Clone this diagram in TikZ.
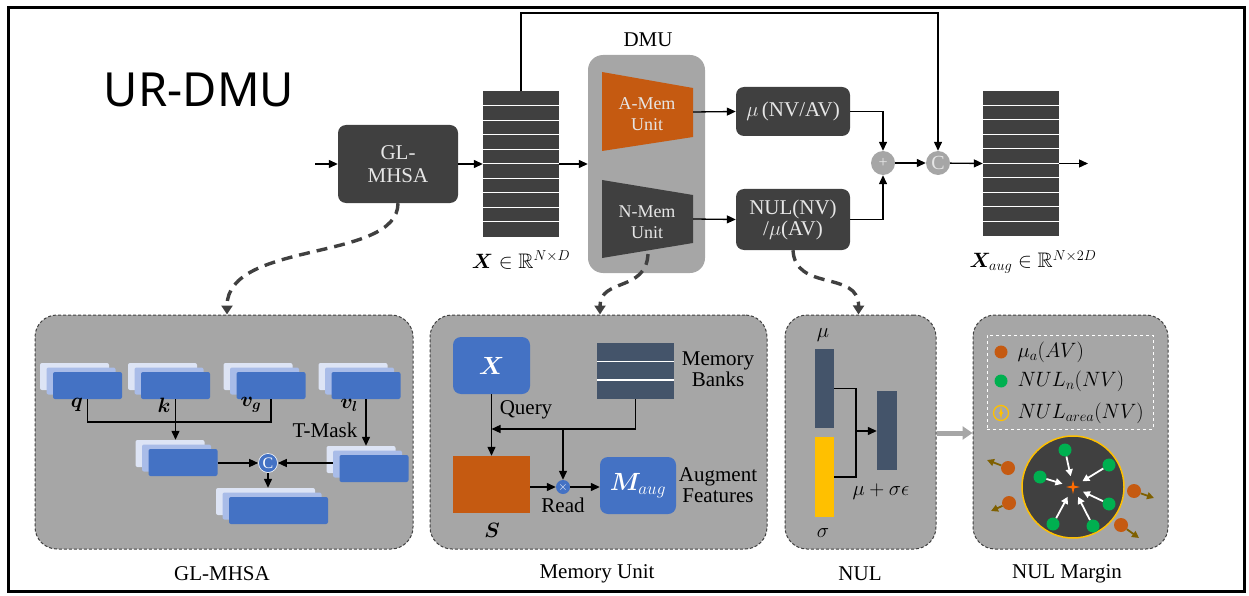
\documentclass[tikz,border=0pt]{standalone}
\usepackage{amsmath,amssymb,bm}
\usepackage{fontspec}
\setmainfont{Liberation Serif}
\newfontfamily\titlefont{Noto Sans}
\usetikzlibrary{arrows.meta,calc,shapes.geometric}
\definecolor{dk}{HTML}{404040}
\definecolor{pg}{HTML}{A6A6A6}
\definecolor{bl}{HTML}{4472C4}
\definecolor{blm}{HTML}{A9BCE8}
\definecolor{blb}{HTML}{DDE4F5}
\definecolor{org}{HTML}{C55A11}
\definecolor{sl}{HTML}{44546A}
\definecolor{yl}{HTML}{FFC000}
\definecolor{gr}{HTML}{00B050}
\definecolor{brn}{HTML}{7F6000}
\definecolor{lt}{HTML}{E6E6E6}
\definecolor{od}{HTML}{C55A11}
\newcommand\stk[5]{%
  \node[lay, fill=blb, minimum width=#4, minimum height=#5] (#1b) at ({#2-13},{#3-9}) {};
  \node[lay, fill=blm, minimum width=#4, minimum height=#5] (#1m) at ({#2-6.5},{#3-4.5}) {};
  \node[lay, fill=bl, minimum width=#4, minimum height=#5] (#1) at (#2,#3) {};}
\tikzset{
  arr/.style={line width=1.3pt, -{Triangle[length=9pt,width=8pt]}},
  ln/.style={line width=1.3pt},
  dkbox/.style={fill=dk, rounded corners=8pt, text=lt, align=center, inner sep=0pt},
  lay/.style={rounded corners=2pt, inner sep=0pt, draw=none},
  panel/.style={fill=pg, draw=dk, densely dashed, line width=1pt, rounded corners=22pt, inner sep=0pt},
  conn/.style={dk, line width=3.4pt, dash pattern=on 11pt off 7pt, -{Triangle[length=9pt,width=11pt]}},
  dot/.style={circle, inner sep=0pt, minimum size=13pt},
  bbox/.style={fill=bl, rounded corners=8pt, inner sep=0pt, text=white},
}
\begin{document}
\begin{tikzpicture}[x=1pt,y=-1pt, font=\fontsize{21}{23}\selectfont]
\useasboundingbox (0,0) rectangle (1249,596);
\draw[line width=3pt] (8,8) rectangle (1244,591);
\node[font=\titlefont\fontsize{47}{50}\selectfont] (title) at (199,90) {UR-DMU};

% ---------- top row ----------
\coordinate (in) at (315,164);
\node[dkbox, minimum width=120pt, minimum height=78pt] (gl) at (398,164) {GL-\\MHSA};
\draw[arr] (in) -- (gl.west);

\node[fill=dk, minimum width=76pt, minimum height=145pt, inner sep=0pt] (X) at (521,164) {};
\foreach \i in {1,...,9} \draw[white, line width=1.3pt] ($(X.north west)+(0,\i*14.5)$) -- ++(76,0);
\node (xlab) at (521,260) {$\bm{X}\in\mathbb{R}^{N\times D}$};
\draw[arr] (gl.east) -- (X.west);

\node[fill=pg, rounded corners=15pt, minimum width=117pt, minimum height=218pt, inner sep=0pt] (dmu) at (646.5,164) {};
\node (dmulab) at (648,40) {DMU};
\draw[arr] (X.east) -- (dmu.west);

\fill[org] (602,72) -- (693,88) -- (693,137) -- (602,151) -- cycle;
\node[text=lt, align=center, font=\fontsize{18}{21}\selectfont] (amem) at (647,114) {A-Mem\\Unit};
\coordinate (amemR) at (693,112);
\fill[dk] (602,180) -- (693,195) -- (693,243) -- (602,258) -- cycle;
\node[text=lt, align=center, font=\fontsize{18}{21}\selectfont] (nmem) at (647,222) {N-Mem\\Unit};
\coordinate (nmemR) at (693,219);
\coordinate (nmemS) at (648,254);

\node[dkbox, minimum width=114pt, minimum height=49pt] (mu) at (793,111.5) {$\mu$\,(NV/AV)};
\node[dkbox, minimum width=114pt, minimum height=61pt] (nul) at (793,219.5) {NUL(NV)\\[-2pt]/$\mu$(AV)};
\draw[arr] (amemR) -- (mu.west);
\draw[arr] (nmemR) -- (nul.west);

\node[circle, fill=pg, minimum size=24pt, inner sep=0pt, text=lt, font=\fontsize{16}{16}\selectfont] (plus) at (883,163) {+};
\node[circle, fill=pg, minimum size=24pt, inner sep=0pt, text=lt, font=\fontsize{20}{20}\selectfont] (cc) at (938,163) {C};
\draw[arr] (mu.east) -| (plus);
\draw[arr] (nul.east) -| (plus);
\draw[arr] (plus) -- (cc);
\coordinate (topy) at (0,13);
\draw[arr] (X.north) -- (X.north |- topy) -| (cc);

\node[fill=dk, minimum width=76pt, minimum height=145pt, inner sep=0pt] (Xa) at (1021,163.5) {};
\foreach \i in {1,...,9} \draw[white, line width=1.3pt] ($(Xa.north west)+(0,\i*14.5)$) -- ++(76,0);
\draw[arr] (cc) -- (Xa.west);
\coordinate (out) at (1088,163.5);
\draw[arr] (Xa.east) -- (out);
\node (xalab) at (1033,262) {$\bm{X}_{aug}\in\mathbb{R}^{N\times 2D}$};

% ---------- panels ----------
\node[panel, minimum width=378pt, minimum height=234pt] (pgl) at (224,432) {};
\node[panel, minimum width=337pt, minimum height=234pt] (pmem) at (598.5,432) {};
\node[panel, minimum width=151pt, minimum height=234pt] (pnul) at (860.5,432) {};
\node[panel, minimum width=195pt, minimum height=234pt] (pmar) at (1070.5,432) {};
\node (c1) at (222,574) {GL-MHSA};
\node (c2) at (597,574) {Memory Unit};
\node (c3) at (860,574) {NUL};
\node (c4) at (1067,574) {NUL Margin};

\draw[conn] (gl.south) .. controls (398,262) and (227,240) .. ($(pgl.north)+(3,0)$);
\draw[conn] (nmemS) .. controls (646,292) and (600,278) .. ($(pmem.north)+(1.5,0)$);
\draw[conn] (nul.south) .. controls (795,292) and (859,270) .. ($(pnul.north)+(-2,0)$);

\coordinate (ga) at (0,433);
\draw[pg, line width=5pt, -{Triangle[length=10pt,width=13pt]}] (pnul.east |- ga) -- (pmar.west |- ga);

% ---------- GL-MHSA panel ----------
\stk{q}{87.5}{385.5}{69}{27}
\stk{k}{175.5}{385.5}{69}{27}
\stk{vg}{271}{385.5}{69}{27}
\stk{vl}{366}{385.5}{69}{27}
\stk{att}{183}{462.5}{69}{27}
\stk{msk}{374}{468.5}{69}{27}
\stk{res}{278.5}{510.5}{99}{27}
\node (ql) at (77,405) {$\bm{q}$};
\node (kl) at (164,405) {$\bm{k}$};
\node (vgl) at (251,405) {$\bm{v}_{\bm{g}}$};
\node (vll) at (349,405) {$\bm{v}_{\bm{l}}$};
\node (tm) at (325,430) {T-Mask};
\coordinate (hy) at (0,422);
\draw[ln] (q.south) -- (q.south |- hy) -- (vg.south |- hy) -- (vg.south);
\draw[arr] (k.south) -- (k.south |- attb.north);
\draw[arr] (vl.south) -- (vl.south |- mskb.north);
\node[circle, fill=bl, draw=white, line width=0.6pt, minimum size=19pt, inner sep=0pt, text=white, font=\fontsize{16}{16}\selectfont] (cg) at (268,463) {C};
\draw[arr] (att.east |- cg) -- (cg.west);
\draw[arr] (mskm.west |- cg) -- (cg.east);
\draw[arr] (cg.south) -- (cg.south |- resb.north);

% ---------- Memory unit panel ----------
\node[bbox, minimum width=77pt, minimum height=57pt, font=\fontsize{23}{23}\selectfont] (mx) at (491.5,365.5) {$\bm{X}$};
\node[fill=sl, minimum width=77pt, minimum height=56pt, inner sep=0pt] (mb) at (635.5,371) {};
\foreach \i in {1,2} \draw[white, line width=1.3pt] ($(mb.north west)+(0,\i*18.67)$) -- ++(77,0);
\node[align=center] (mbl) at (718,369) {Memory\\[-2pt]Banks};
\node[fill=org, minimum width=77pt, minimum height=57pt, inner sep=0pt] (ms) at (491.5,484.5) {};
\node (msl) at (492,530) {$\bm{S}$};
\node[circle, fill=bl, minimum size=14pt, inner sep=0pt, text=white, font=\fontsize{12}{12}\selectfont] (rd) at (563,487) {$\times$};
\node[bbox, minimum width=76pt, minimum height=57pt, font=\fontsize{23}{23}\selectfont] (maug) at (638,485.5) {$\bm{M}_{aug}$};
\node[align=center] (afl) at (718,485) {Augment\\[-2pt]Features};
\node (qry) at (526,410) {Query};
\node (rdl) at (563,505) {Read};
\coordinate (j1) at (0,429);
\draw[arr] (mx.south) -- (ms.north);
\draw[arr] (mb.south) |- (mx.south |- j1);
\draw[arr] (rd |- j1) -- (rd.north);
\draw[arr] (ms.east |- rd) -- (rd.west);
\draw[arr] (rd.east) -- (maug.west |- rd);

% ---------- NUL panel ----------
\node (mul) at (823,335) {$\mu$};
\node[fill=sl, minimum width=19pt, minimum height=79pt, inner sep=0pt] (nmu) at (824.5,388.5) {};
\node[fill=yl, minimum width=19pt, minimum height=80pt, inner sep=0pt] (nsig) at (824.5,477) {};
\node (sgl) at (823,533) {$\sigma$};
\node[fill=sl, minimum width=20pt, minimum height=79pt, inner sep=0pt] (nout) at (887,430.5) {};
\coordinate (nj) at (856,431);
\draw[ln] (nmu.east) -| (nj) |- (nsig.east);
\draw[arr] (nj) -- (nout.west |- nj);
\node (eq) at (881,492) {$\mu+\sigma\epsilon$};

% ---------- NUL margin panel ----------
\node[draw=white, dashed, line width=1pt, minimum width=166pt, minimum height=94pt, inner sep=0pt] (leg) at (1070,382) {};
\node[dot, fill=od] (l1) at (1001,352) {};
\node[dot, fill=gr] (l2) at (1001,381) {};
\node[circle, draw=yl, line width=1.3pt, minimum size=15pt, inner sep=0pt] (l3) at (1001,413) {};
\fill[yl] (1001,406) -- (1002,412) -- (1003.5,413) -- (1002,414) -- (1001,420) -- (1000,414) -- (998.5,413) -- (1000,412) -- cycle;
\node[anchor=west] (t1) at (1014,352) {$\mu_a(AV)$};
\node[anchor=west] (t2) at (1014,381) {$NUL_n(NV)$};
\node[anchor=west] (t3) at (1014,413) {$NUL_{area}(NV)$};

\node[circle, fill=dk, draw=yl, line width=1.5pt, minimum size=102pt, inner sep=0pt] (big) at (1073,487) {};
\coordinate (ctr) at (1073,487);
\fill[orange!85!red] (1073,480) -- (1074.3,485.7) -- (1080,487) -- (1074.3,488.3) -- (1073,494) -- (1071.7,488.3) -- (1066,487) -- (1071.7,485.7) -- cycle;
\foreach \n/\p in {g1/{1065,450}, g2/{1109,465}, g3/{1040,477}, g4/{1109,504}, g5/{1053,524}, g6/{1093,526}} {
  \node[dot, fill=gr] (\n) at (\p) {};
  \draw[white, line width=1.8pt, -{Triangle[length=7pt,width=7pt]}, shorten >=11pt] (\n) -- (ctr);
}
\foreach \n/\p/\e in {o1/{1008,468}/{987,460}, o2/{1009,503}/{991,511}, o3/{1134,491}/{1154,498}, o4/{1121,525}/{1139,538}} {
  \node[dot, fill=od, minimum size=14pt] (\n) at (\p) {};
  \coordinate (\n e) at (\e);
  \draw[brn, line width=1.8pt, -{Triangle[length=7pt,width=7pt]}] (\n) -- (\n e);
}
\end{tikzpicture}
\end{document}
